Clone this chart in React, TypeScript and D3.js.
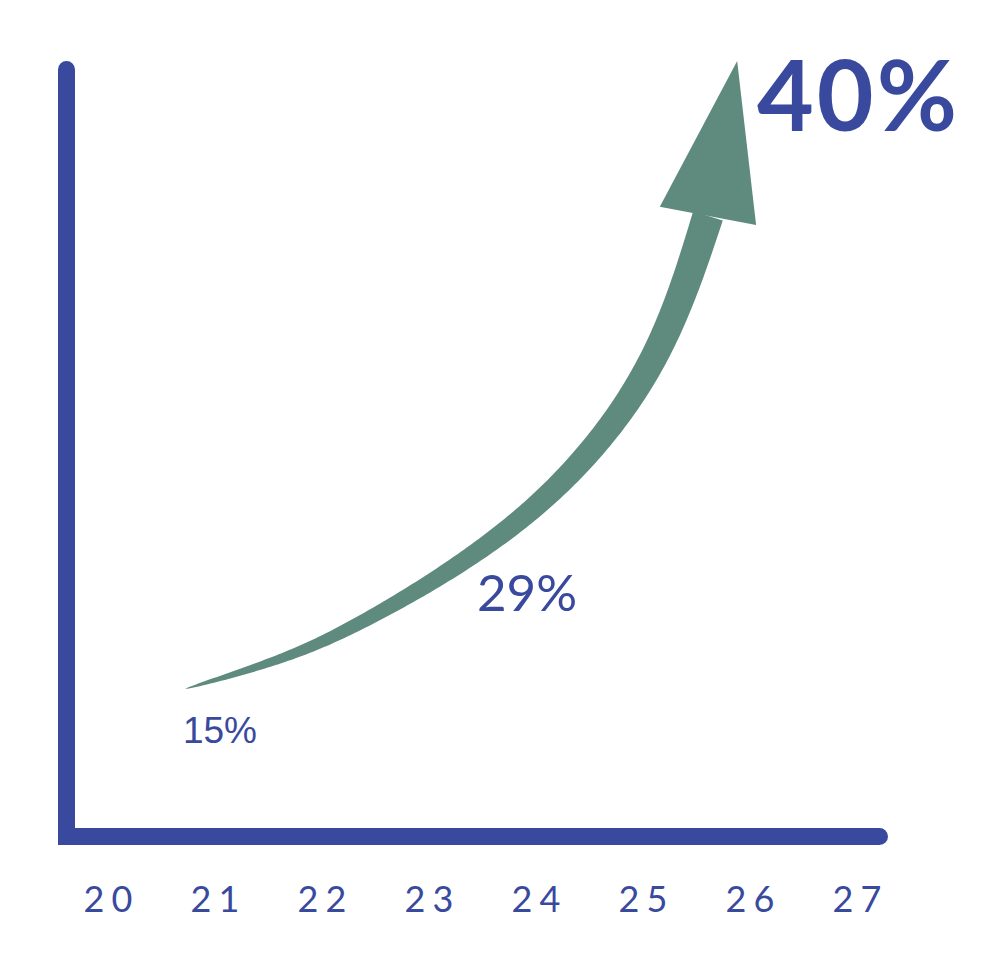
import * as d3 from "d3";
import React, { useEffect, useRef } from "react";

// x axis years and labelled growth values
const years = [20, 21, 22, 23, 24, 25, 26, 27];
const labelYears = [21, 24, 27];
const labelValues = [15, 29, 40];

// growth curve the arrow follows (year, level)
const curveYears = [20.72, 21.607, 22.542, 23.944, 25.037, 25.607];
const curveLevels = [8.56, 10.31, 13.03, 18.89, 27.07, 36.01];
const tipYear = 25.88;
const tipLevel = 45;

const BLUE = "#394a9e";
const GREEN = "#5f8b7e";

function draw(svgRef: React.RefObject<SVGSVGElement | null>) {
    const width = 1000;
    const height = 963;
    const originX = 66.5;
    const axisEnd = 879.5;

    const svg = d3.select(svgRef.current)
        .attr("width", width)
        .attr("height", height)
        .attr("viewBox", "0 0 " + width + " " + height);
    svg.selectAll("*").remove();

    const x = d3.scaleLinear().domain([20, 27]).range([108, 857]);
    const y = d3.scaleLinear().domain([0, 45]).range([836.5, 61]);

    // L shaped axis
    svg.append("path")
        .attr("d", d3.line()([[originX, 69.5], [originX, y(0)], [axisEnd, y(0)]]))
        .attr("fill", "none")
        .attr("stroke", BLUE)
        .attr("stroke-width", 17)
        .attr("stroke-linecap", "round")
        .attr("stroke-linejoin", "miter");

    svg.selectAll(".tick")
        .data(years)
        .enter().append("text")
        .attr("class", "tick")
        .attr("x", (d) => x(d) + 3.5)
        .attr("y", 912)
        .attr("text-anchor", "middle")
        .attr("fill", BLUE)
        .style("font-family", "Lato, sans-serif")
        .style("font-size", "36px")
        .style("letter-spacing", "7px")
        .text((d) => String(d));

    // tapered arrow shaft
    const pts: [number, number][] = curveYears.map((d, i) => [x(d), y(curveLevels[i])]);
    const centre = svg.append("path")
        .attr("d", d3.line().curve(d3.curveNatural)(pts))
        .attr("fill", "none")
        .attr("stroke", "none");
    const node = centre.node() as SVGPathElement;
    const total = node.getTotalLength();
    const n = 200;
    const left: [number, number][] = [];
    const right: [number, number][] = [];
    for (let i = 0; i <= n; i++) {
        const t = i / n;
        const p = node.getPointAtLength(t * total);
        const a = node.getPointAtLength(Math.max(0, t * total - 1));
        const b = node.getPointAtLength(Math.min(total, t * total + 1));
        let dx = b.x - a.x, dy = b.y - a.y;
        const len = Math.hypot(dx, dy) || 1;
        dx /= len; dy /= len;
        const w = 31 * Math.pow(t, 0.6) / 2;
        left.push([p.x - dy * w, p.y + dx * w]);
        right.push([p.x + dy * w, p.y - dx * w]);
    }
    svg.append("path")
        .attr("d", d3.line()(left.concat(right.reverse())) + "Z")
        .attr("fill", GREEN);

    // arrow head
    const base = pts[pts.length - 1];
    const tip: [number, number] = [x(tipYear), y(tipLevel)];
    let hx = tip[0] - base[0], hy = tip[1] - base[1];
    const hl = Math.hypot(hx, hy);
    hx /= hl; hy /= hl;
    const half = 49;
    svg.append("path")
        .attr("d", d3.line()([
            tip,
            [base[0] - hy * half, base[1] + hx * half],
            [base[0] + hy * half, base[1] - hx * half],
        ]) + "Z")
        .attr("fill", GREEN);

    // value labels
    const labelDx = [5, -9, 0];
    const labelY = [743, 611, 131];
    const labelSize = [37, 51, 98];
    const labelWeight = [400, 400, 700];
    const labelSpacing = [0, 0, 3];
    const labelFont = ["'Liberation Sans', Arial, sans-serif", "Lato, sans-serif", "Lato, sans-serif"];
    svg.selectAll(".value")
        .data(labelValues)
        .enter().append("text")
        .attr("class", "value")
        .attr("x", (d, i) => x(labelYears[i]) + labelDx[i] + labelSpacing[i] / 2)
        .attr("y", (d, i) => labelY[i])
        .attr("text-anchor", "middle")
        .attr("fill", BLUE)
        .style("font-family", (d, i) => labelFont[i])
        .style("font-size", (d, i) => labelSize[i] + "px")
        .style("font-weight", (d, i) => labelWeight[i])
        .style("letter-spacing", (d, i) => labelSpacing[i] + "px")
        .text((d) => d + "%");
}

export default function App() {
    const svg = useRef<SVGSVGElement>(null);
    useEffect(() => {
        draw(svg);
    });

    return (
        <div style={{ position: "absolute", left: 0, top: 0, background: "#fff" }}>
            <svg ref={svg} style={{ display: "block" }}></svg>
        </div>
    );
}
